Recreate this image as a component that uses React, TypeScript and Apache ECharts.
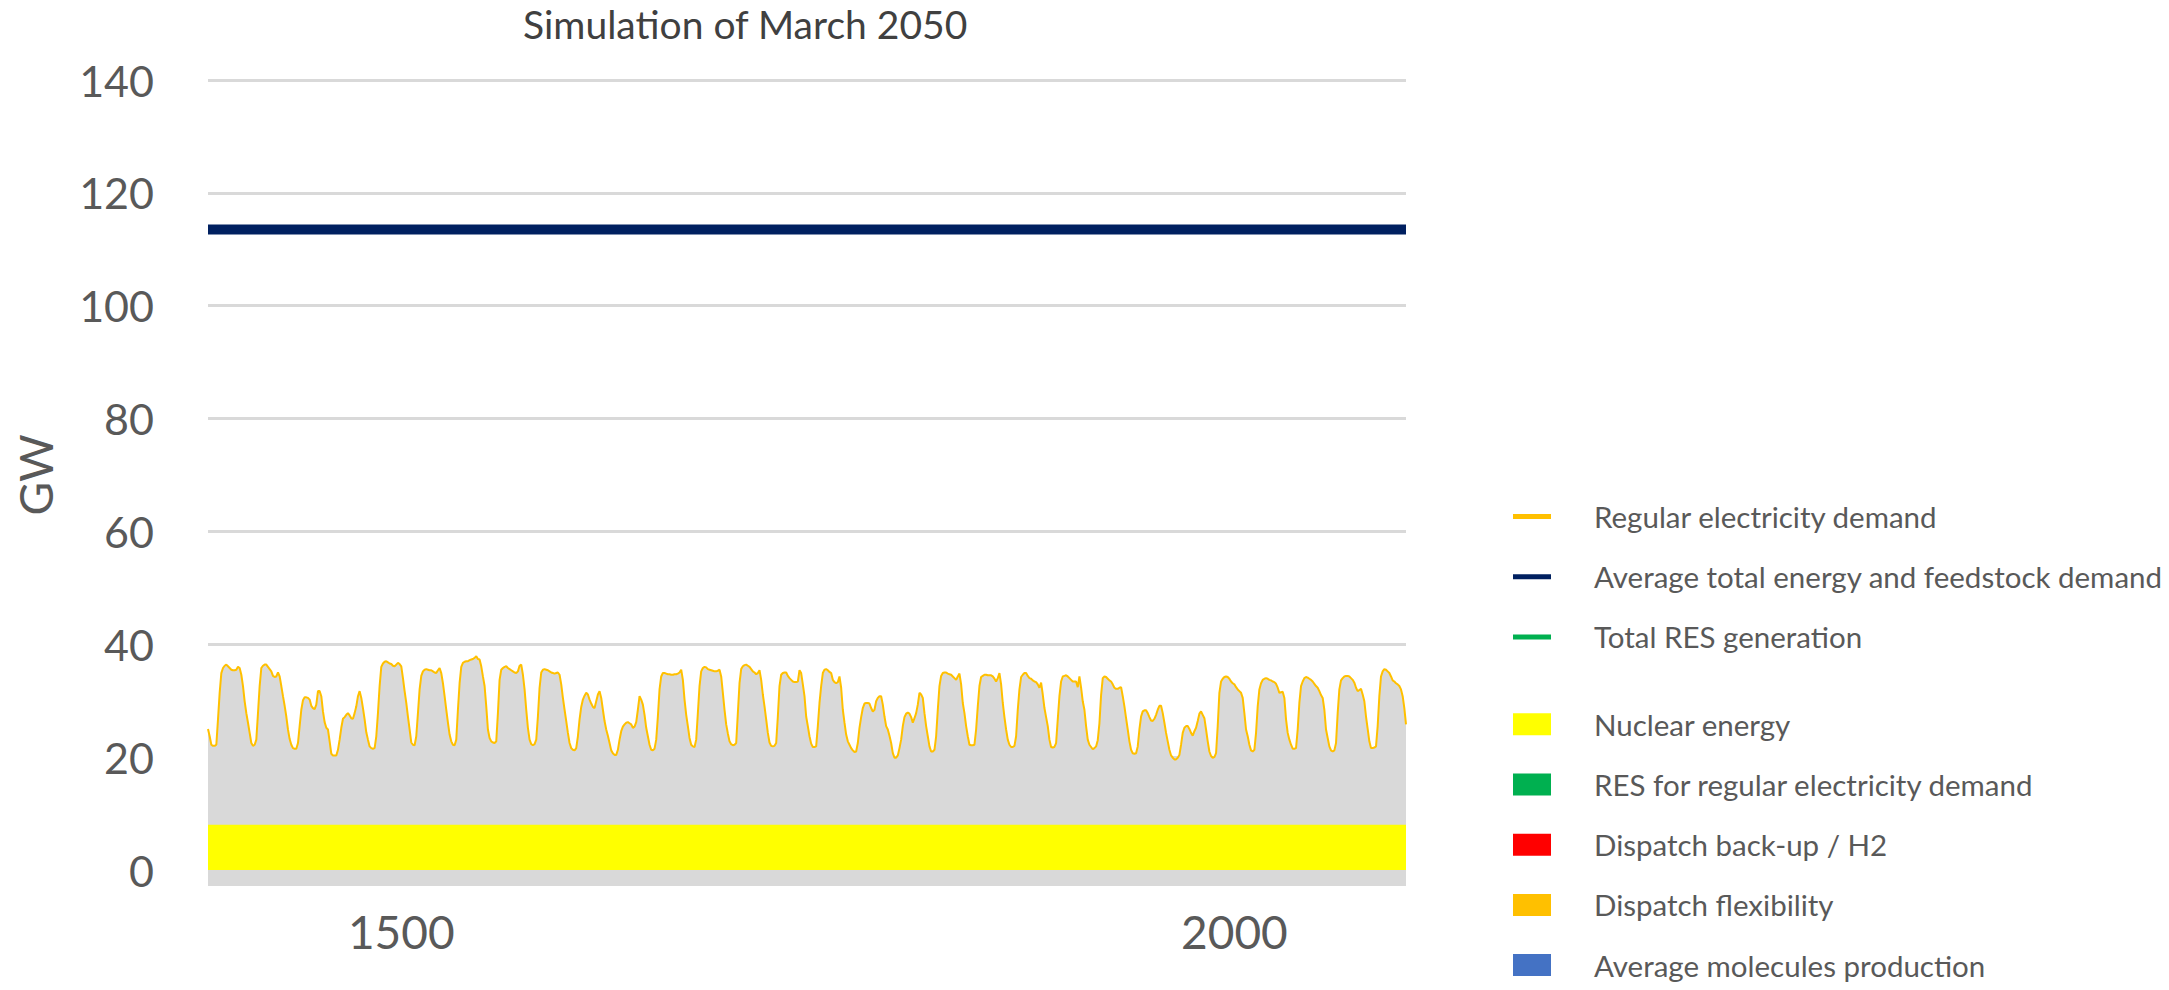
import { useEffect, useRef } from "react";
import * as echarts from "echarts";

// ---- Chart text ----
const TITLE = "Simulation of March 2050";
const Y_AXIS_NAME = "GW";

// ---- Axes ----
const FIRST_HOUR = 1384; // hour-of-year of the first sample
const X_TICK_HOURS = [1500, 2000];
const Y_MIN = 0;
const Y_MAX = 140;
const Y_STEP = 20;

// ---- Flat levels (GW) ----
const NUCLEAR_GW = 8;
const AVG_TOTAL_DEMAND_GW = 113.5;

// ---- Legend groups ----
const LINE_NAMES = [
  "Regular electricity demand",
  "Average total energy and feedstock demand",
  "Total RES generation",
];
const AREA_NAMES = [
  "Nuclear energy",
  "RES for regular electricity demand",
  "Dispatch back-up / H2",
  "Dispatch flexibility",
  "Average molecules production",
];

// ---- Hourly regular electricity demand (GW), one row per day ----
const REGULAR_DEMAND_GW: number[][] = [
  [25.0, 23.7, 22.2, 22.0, 22.0, 22.2, 26.7, 31.4, 34.9, 35.8, 36.2, 36.4, 36.1, 35.8, 35.5, 35.4, 35.4, 35.5, 36.0, 35.8, 34.6, 32.6, 29.9, 27.8],
  [26.1, 24.3, 22.5, 22.0, 22.2, 23.1, 27.8, 32.6, 35.8, 36.2, 36.4, 36.4, 36.0, 35.6, 35.2, 34.4, 34.2, 34.3, 35.0, 34.3, 32.6, 30.8, 29.1, 27.2],
  [24.9, 23.2, 22.2, 21.6, 21.5, 21.5, 22.5, 25.5, 28.4, 30.1, 30.6, 30.6, 30.5, 30.2, 29.1, 28.7, 28.5, 29.3, 31.7, 31.7, 30.8, 28.1, 26.2, 25.2],
  [24.9, 22.8, 20.6, 20.3, 20.3, 20.3, 21.3, 23.1, 25.2, 26.8, 27.1, 27.5, 27.8, 27.4, 26.9, 26.8, 27.8, 29.0, 30.8, 31.7, 30.5, 28.7, 26.7, 24.4],
  [23.1, 21.9, 21.6, 21.5, 21.6, 23.7, 27.8, 32.6, 36.0, 36.6, 36.9, 37.0, 36.8, 36.6, 36.5, 36.2, 36.1, 36.4, 36.7, 36.5, 36.1, 34.0, 31.7, 29.6],
  [27.2, 24.9, 22.6, 22.2, 22.1, 23.7, 27.8, 32.0, 34.4, 35.2, 35.5, 35.6, 35.5, 35.4, 35.4, 35.2, 35.0, 34.9, 35.4, 35.8, 34.9, 33.1, 30.8, 28.4],
  [26.1, 24.0, 22.8, 22.2, 22.1, 23.1, 28.4, 33.1, 36.0, 36.7, 36.9, 37.0, 37.0, 37.2, 37.3, 37.4, 37.6, 37.9, 37.4, 37.3, 36.1, 34.3, 32.6, 29.0],
  [24.9, 23.4, 22.8, 22.6, 22.5, 22.8, 27.8, 33.7, 35.5, 35.8, 36.0, 36.1, 35.8, 35.6, 35.4, 35.2, 35.0, 34.9, 35.2, 36.2, 36.4, 34.6, 32.0, 28.4],
  [25.2, 23.1, 22.3, 22.1, 22.3, 23.1, 27.2, 32.3, 35.0, 35.5, 35.6, 35.5, 35.4, 35.2, 35.0, 34.9, 34.8, 34.9, 35.0, 34.6, 32.9, 30.5, 28.4, 26.4],
  [24.3, 22.5, 21.6, 21.3, 21.2, 21.6, 23.7, 26.7, 28.9, 30.2, 30.9, 31.4, 31.1, 30.2, 29.5, 28.9, 28.7, 29.9, 31.1, 31.7, 30.5, 28.4, 26.4, 24.9],
  [23.8, 22.5, 21.2, 20.7, 20.4, 20.4, 21.3, 23.1, 24.6, 25.4, 25.8, 26.1, 26.2, 26.0, 25.8, 25.2, 25.4, 26.2, 28.4, 30.8, 30.2, 29.3, 27.5, 25.2],
  [23.7, 22.2, 21.3, 21.2, 21.5, 23.1, 27.2, 32.0, 34.3, 34.9, 34.9, 34.8, 34.7, 34.7, 34.6, 34.6, 34.7, 34.7, 34.8, 35.0, 35.5, 33.7, 30.2, 27.5],
  [25.5, 23.4, 22.2, 21.9, 21.8, 23.1, 27.8, 32.6, 35.2, 35.8, 36.0, 35.9, 35.6, 35.5, 35.4, 35.3, 35.2, 35.2, 35.3, 35.5, 34.3, 31.4, 28.4, 25.8],
  [24.2, 22.8, 22.3, 22.1, 22.2, 22.5, 27.8, 33.1, 35.6, 36.1, 36.3, 36.4, 36.2, 36.0, 35.6, 35.2, 35.0, 34.7, 34.9, 35.4, 33.7, 31.1, 29.0, 26.7],
  [24.3, 22.6, 22.0, 21.9, 22.0, 22.5, 27.2, 32.6, 34.6, 34.9, 35.0, 35.0, 34.4, 34.0, 33.7, 33.4, 33.3, 33.3, 33.4, 35.4, 34.9, 32.9, 30.8, 27.2],
  [25.5, 23.7, 22.4, 21.8, 21.8, 21.9, 25.5, 29.6, 32.6, 34.9, 35.5, 35.6, 35.4, 35.1, 34.9, 33.7, 33.3, 33.1, 33.3, 34.3, 32.3, 28.4, 26.1, 24.0],
  [22.8, 22.2, 21.6, 21.2, 20.9, 21.0, 22.5, 25.2, 27.1, 28.7, 29.5, 29.6, 29.6, 29.5, 28.7, 28.1, 28.4, 29.9, 30.5, 30.8, 30.8, 29.3, 27.2, 25.5],
  [24.9, 23.8, 22.5, 20.7, 19.9, 19.9, 20.3, 21.6, 23.1, 25.5, 27.1, 27.7, 27.9, 27.7, 27.1, 26.1, 26.9, 27.8, 29.3, 31.4, 31.1, 30.5, 27.8, 25.5],
  [23.7, 21.9, 21.0, 21.0, 21.3, 23.7, 28.4, 32.6, 34.4, 34.9, 35.0, 35.0, 34.8, 34.7, 34.6, 34.3, 34.0, 33.7, 34.3, 34.8, 32.9, 29.6, 27.8, 25.5],
  [23.7, 22.2, 22.1, 22.1, 22.2, 24.9, 29.0, 32.6, 34.2, 34.4, 34.6, 34.6, 34.5, 34.5, 34.5, 34.3, 33.9, 33.4, 34.0, 34.9, 32.9, 29.6, 27.1, 24.9],
  [23.1, 22.2, 21.8, 21.8, 22.0, 23.7, 28.4, 32.0, 34.2, 34.6, 34.9, 34.9, 34.4, 34.0, 33.9, 33.6, 33.4, 33.3, 32.9, 32.3, 33.2, 31.1, 28.7, 27.1],
  [25.5, 23.1, 21.8, 21.7, 21.8, 22.5, 26.7, 30.8, 33.4, 34.3, 34.4, 34.5, 34.3, 34.0, 33.7, 33.4, 33.4, 33.4, 32.4, 34.3, 32.3, 29.9, 28.4, 25.5],
  [23.1, 22.2, 21.8, 21.4, 21.6, 21.9, 23.0, 26.0, 31.0, 34.0, 34.3, 34.2, 33.9, 33.6, 33.4, 32.9, 32.3, 32.1, 32.1, 32.3, 32.4, 30.8, 29.0, 26.9],
  [24.9, 22.8, 21.3, 20.7, 20.6, 20.7, 21.9, 24.9, 27.2, 28.1, 28.3, 28.3, 27.8, 27.1, 26.5, 26.4, 26.8, 27.5, 28.4, 29.1, 29.1, 27.8, 26.1, 24.3],
  [22.8, 21.3, 20.3, 19.9, 19.6, 19.6, 19.9, 20.4, 22.2, 24.3, 25.2, 25.5, 25.5, 25.0, 24.3, 23.8, 24.6, 25.2, 26.4, 27.7, 28.1, 27.5, 26.9, 24.9],
  [22.8, 21.0, 20.2, 19.9, 20.0, 20.7, 25.5, 31.4, 33.4, 33.9, 34.2, 34.3, 34.2, 33.9, 33.4, 33.1, 32.9, 32.4, 32.0, 31.7, 31.4, 30.5, 27.8, 24.9],
  [23.7, 22.2, 21.2, 21.0, 21.3, 24.3, 29.0, 32.0, 33.1, 33.7, 33.9, 34.0, 33.9, 33.7, 33.6, 33.4, 33.3, 33.0, 32.3, 31.4, 31.5, 31.6, 30.5, 26.7],
  [24.3, 23.1, 22.2, 21.5, 21.5, 21.6, 24.9, 29.6, 32.6, 33.4, 34.0, 34.2, 34.1, 33.9, 33.7, 33.4, 33.0, 32.6, 32.3, 31.7, 31.0, 30.5, 28.4, 24.9],
  [23.4, 21.9, 21.2, 21.0, 21.2, 22.5, 27.8, 32.0, 33.6, 34.0, 34.3, 34.4, 34.4, 34.3, 34.0, 33.7, 33.2, 32.3, 31.7, 31.9, 32.1, 31.1, 29.9, 27.2],
  [25.0, 22.8, 21.6, 21.6, 21.7, 21.9, 25.5, 30.8, 34.3, 35.2, 35.6, 35.5, 35.2, 34.9, 34.3, 33.6, 33.4, 33.1, 32.9, 32.6, 32.0, 30.8, 28.7, 25.8],
];

const COLOR = {
  demandLine: "#ffc000",
  demandFill: "#d9d9d9",
  avgTotal: "#002060",
  resLine: "#00b050",
  nuclear: "#ffff00",
  resArea: "#00b050",
  backup: "#ff0000",
  flexibility: "#ffc000",
  molecules: "#4472c4",
  grid: "#d9d9d9",
  text: "#595959",
  title: "#404040",
};

const FONT = "Lato, 'Open Sans', 'Noto Sans', sans-serif";

export default function App() {
  const ref = useRef<HTMLDivElement>(null);

  useEffect(() => {
    if (!ref.current) return;
    const chart = echarts.init(ref.current, undefined, { renderer: "svg" });

    const demand = REGULAR_DEMAND_GW.flat();
    const hours = demand.map((_, i) => String(FIRST_HOUR + i));
    const nuclear = demand.map(() => NUCLEAR_GW);
    const avgTotal = demand.map(() => AVG_TOTAL_DEMAND_GW);

    // Series that appear in the legend but carry no values this month
    const emptyLine = (name: string, color: string) => ({
      name,
      type: "line",
      data: [] as number[],
      symbol: "none",
      lineStyle: { color, width: 2 },
      itemStyle: { color },
    });

    const legendBase = {
      orient: "vertical",
      left: 1513,
      padding: 0,
      icon: "rect",
      itemWidth: 38,
      selectedMode: false,
      itemGap: 30.2,
      itemStyle: { borderWidth: 0 },
      textStyle: {
        color: COLOR.text,
        fontSize: 29.5,
        lineHeight: 30,
        fontFamily: FONT,
        padding: [0, 0, 0, 38],
      },
    };

    chart.setOption({
      animation: false,
      textStyle: { fontFamily: FONT },
      title: {
        text: TITLE,
        left: 523,
        top: 4,
        padding: 0,
        textStyle: {
          fontSize: 39,
          fontWeight: "normal",
          color: COLOR.title,
          fontFamily: FONT,
        },
      },
      legend: [
        { ...legendBase, top: 501.5, itemHeight: 5, data: LINE_NAMES },
        { ...legendBase, top: 709.3, itemHeight: 22, data: AREA_NAMES },
      ],
      grid: { left: 208, right: 763, top: 80, bottom: 120, containLabel: false },
      xAxis: {
        type: "category",
        data: hours,
        boundaryGap: false,
        offset: 7,
        axisLine: {
          show: true,
          onZero: false,
          lineStyle: { color: COLOR.grid, width: 18, cap: "butt" },
        },
        axisTick: { show: false },
        splitLine: { show: false },
        axisLabel: {
          interval: (_: number, value: string) => X_TICK_HOURS.includes(Number(value)),
          fontSize: 46,
          color: COLOR.text,
          margin: 31,
          fontFamily: FONT,
        },
      },
      yAxis: {
        type: "value",
        min: Y_MIN,
        max: Y_MAX,
        interval: Y_STEP,
        name: Y_AXIS_NAME,
        nameLocation: "middle",
        nameRotate: 90,
        nameGap: 150,
        nameTextStyle: { fontSize: 46, color: COLOR.text, fontFamily: FONT },
        axisLine: { show: false },
        axisTick: { show: false },
        axisLabel: { fontSize: 43, color: COLOR.text, margin: 54, fontFamily: FONT },
        splitLine: { lineStyle: { color: COLOR.grid, width: 3 } },
      },
      series: [
        {
          name: LINE_NAMES[0],
          type: "line",
          data: demand,
          symbol: "none",
          lineStyle: { color: COLOR.demandLine, width: 2 },
          itemStyle: { color: COLOR.demandLine },
          areaStyle: { color: COLOR.demandFill, opacity: 1 },
          z: 2,
        },
        {
          name: AREA_NAMES[0],
          type: "line",
          data: nuclear,
          symbol: "none",
          lineStyle: { color: COLOR.nuclear, width: 0 },
          itemStyle: { color: COLOR.nuclear },
          areaStyle: { color: COLOR.nuclear, opacity: 1 },
          z: 3,
        },
        {
          name: LINE_NAMES[1],
          type: "line",
          data: avgTotal,
          symbol: "none",
          lineStyle: { color: COLOR.avgTotal, width: 10 },
          itemStyle: { color: COLOR.avgTotal },
          z: 4,
        },
        emptyLine(LINE_NAMES[2], COLOR.resLine),
        emptyLine(AREA_NAMES[1], COLOR.resArea),
        emptyLine(AREA_NAMES[2], COLOR.backup),
        emptyLine(AREA_NAMES[3], COLOR.flexibility),
        emptyLine(AREA_NAMES[4], COLOR.molecules),
      ],
    });

    return () => chart.dispose();
  }, []);

  return (
    <div
      ref={ref}
      style={{ position: "fixed", left: 0, top: 0, width: 2169, height: 990, background: "#ffffff" }}
    />
  );
}
